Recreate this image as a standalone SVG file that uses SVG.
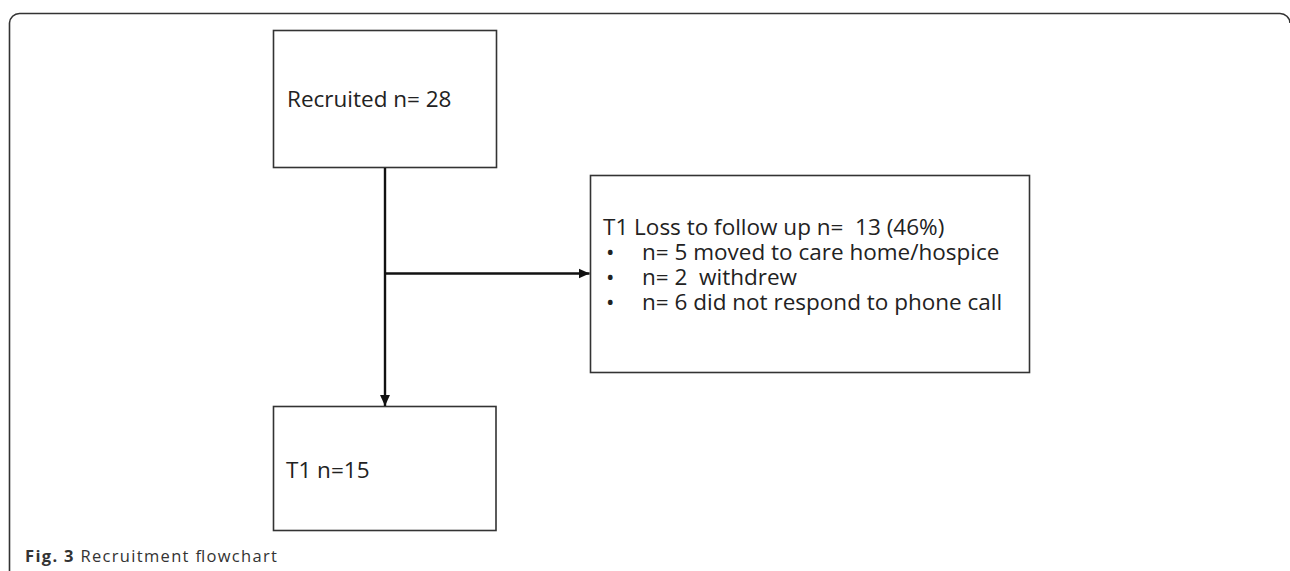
<svg xmlns="http://www.w3.org/2000/svg" width="1290" height="571" viewBox="0 0 1290 571">
<defs>
<style>
.box{fill:#fff;stroke:#333;stroke-width:1.6}
.t{font-family:"Open Sans","Noto Sans",sans-serif;font-size:22.5px;fill:#222;white-space:pre}
.cap{font-family:"Open Sans","Noto Sans",sans-serif;font-size:16.5px;fill:#333}
.conn{fill:none;stroke:#111;stroke-width:2.4}
</style>
<marker id="ah" viewBox="0 0 10 10" refX="10" refY="5" markerWidth="11" markerHeight="11" markerUnits="userSpaceOnUse" orient="auto">
<path d="M0,0.5 L10,5 L0,9.5 Z" fill="#111"/>
</marker>
</defs>
<rect width="1290" height="571" fill="#fff"/>
<path d="M9.5,571 V23 A10,10 0 0 1 19.5,13.5 H1280 A10,10 0 0 1 1290,23" fill="none" stroke="#333" stroke-width="1.6"/>
<g id="recruited">
<rect class="box" x="273.5" y="30.5" width="223" height="137"/>
<text class="t" x="287" y="107">Recruited n= 28</text>
</g>
<g id="loss">
<rect class="box" x="590.5" y="175.5" width="439" height="197"/>
<text class="t" x="603" y="235">T1 Loss to follow up n=  13 (46%)</text>
<text class="t" y="260"><tspan x="606">•</tspan><tspan x="642">n= 5 moved to care home/hospice</tspan></text>
<text class="t" y="285"><tspan x="606">•</tspan><tspan x="642">n= 2  withdrew</tspan></text>
<text class="t" y="310"><tspan x="606">•</tspan><tspan x="642">n= 6 did not respond to phone call</tspan></text>
</g>
<g id="t1">
<rect class="box" x="273.5" y="406.5" width="222.5" height="124"/>
<text class="t" x="286" y="478">T1 n=15</text>
</g>
<g id="connectors">
<path class="conn" d="M385,168 V406" marker-end="url(#ah)"/>
<path class="conn" d="M385,273.5 H589.5" marker-end="url(#ah)"/>
</g>
<text class="cap" x="25" y="562" textLength="252" lengthAdjust="spacing"><tspan font-weight="bold">Fig. 3</tspan> Recruitment flowchart</text>
</svg>
